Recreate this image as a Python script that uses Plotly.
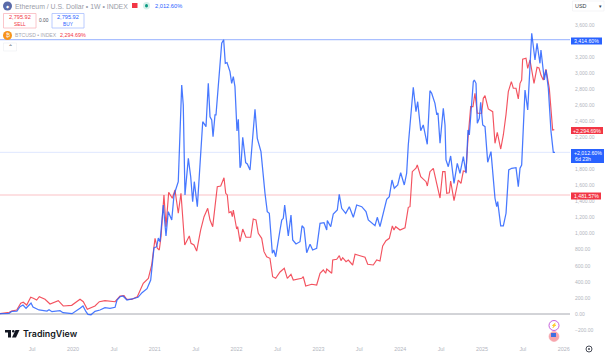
import plotly.graph_objects as go

eth_years = [2019.108,2019.218,2019.254,2019.315,2019.352,2019.389,2019.426,2019.487,2019.511,2019.584,2019.682,2019.707,2019.743,2019.841,2019.878,2019.988,
2020.086,2020.122,2020.159,2020.183,2020.220,2020.269,2020.330,2020.391,2020.452,2020.514,2020.538,2020.575,2020.611,2020.660,2020.721,2020.795,2020.844,2020.905,2020.950,2020.990,
2021.023,2021.043,2021.064,2021.104,2021.137,2021.165,2021.207,2021.235,2021.287,2021.329,2021.348,2021.369,2021.410,2021.439,2021.463,2021.483,2021.520,2021.540,2021.586,2021.626,2021.654,2021.675,2021.696,2021.712,2021.736,2021.748,2021.785,2021.818,2021.842,2021.862,2021.883,2021.919,2021.940,2021.960,2021.980,
2022.005,2022.021,2022.042,2022.054,2022.075,2022.111,2022.131,2022.164,2022.192,2022.225,2022.253,2022.298,2022.347,2022.375,2022.400,2022.437,2022.454,2022.478,2022.531,2022.552,2022.571,2022.588,2022.632,2022.665,2022.686,2022.726,2022.775,2022.800,2022.824,2022.857,2022.898,2022.930,2022.979,
2023.020,2023.069,2023.102,2023.109,2023.151,2023.182,2023.231,2023.255,2023.285,2023.334,2023.378,2023.427,2023.468,2023.530,2023.582,2023.610,2023.692,2023.720,2023.753,2023.835,2023.867,2023.900,2023.928,2023.970,
2024.006,2024.050,2024.079,2024.099,2024.128,2024.160,2024.193,2024.214,2024.251,2024.282,2024.331,2024.364,2024.385,2024.425,2024.446,2024.462,2024.487,2024.527,2024.548,2024.560,2024.588,2024.617,2024.658,2024.698,2024.731,2024.772,2024.805,2024.829,2024.845,2024.894,2024.906,2024.927,2024.943,2024.967,2024.984,
2025.009,2025.037,2025.070,2025.110,2025.159,2025.180,2025.192,2025.229,2025.261,2025.294,2025.327,2025.363,2025.416,2025.444,2025.465,2025.485,2025.526,2025.559,2025.608,2025.648,2025.673,2025.709,2025.721,2025.762,2025.783,2025.811,2025.844,2025.872,2025.893]

eth_pct = [4,9,34,37,91,112,71,137,87,50,37,54,29,41,16,4,
71,100,29,-4,-9,34,50,78,71,83,174,215,224,174,187,208,265,315,423,822,
838,946,900,1357,971,1274,1170,1482,1647,2851,2602,1482,1938,1709,1398,1647,1336,1627,2394,2332,2872,2456,2415,2207,2478,2478,2997,3370,3414,3121,3129,3017,2872,2954,2830,
2278,2424,1821,1855,2200,1884,1868,1793,2166,2549,2187,2021,1503,1274,1254,756,797,713,1046,1170,1191,1357,971,1233,921,872,900,1099,1071,763,868,797,818,
1129,1137,1046,1162,1087,1245,1295,1490,1316,1254,1336,1204,1357,1336,1274,1170,1099,1204,1087,1428,1460,1668,1565,1606,
1759,1606,1752,2104,2415,2822,2519,2643,2282,2353,2113,2780,2748,2623,2490,2502,2125,2561,2353,1917,1834,1967,1627,1876,1752,1958,1752,2291,2229,2892,2913,2872,2374,2437,2636,
2353,2332,1889,2021,1441,1336,1398,1096,1096,1254,1793,1814,1821,1585,1814,1855,2789,2540,3495,3162,3370,3121,3287,2913,3038,2810,2270,2013,2013]

btc_years = [2019.108,2019.221,2019.251,2019.312,2019.361,2019.392,2019.434,2019.483,2019.515,2019.556,2019.588,2019.658,2019.719,2019.780,2019.820,2019.881,2019.984,
2020.086,2020.126,2020.175,2020.269,2020.322,2020.391,2020.514,2020.575,2020.624,2020.656,2020.718,2020.786,2020.859,2020.921,2020.962,
2021.003,2021.031,2021.055,2021.076,2021.112,2021.137,2021.170,2021.214,2021.247,2021.287,2021.320,2021.366,2021.422,2021.443,2021.479,2021.512,2021.561,2021.602,2021.647,2021.675,2021.708,2021.736,2021.764,2021.806,2021.846,2021.867,2021.886,2021.907,2021.932,2021.948,2021.960,
2022.001,2022.013,2022.042,2022.075,2022.115,2022.172,2022.204,2022.237,2022.265,2022.307,2022.335,2022.368,2022.408,2022.441,2022.478,2022.531,2022.583,2022.620,2022.665,2022.693,2022.796,2022.815,2022.845,2022.918,2022.979,
2023.020,2023.060,2023.089,2023.102,2023.163,2023.175,2023.224,2023.256,2023.276,2023.297,2023.338,2023.366,2023.419,2023.448,2023.517,2023.570,2023.603,2023.671,2023.713,2023.753,2023.786,2023.826,2023.867,2023.904,2023.924,2023.945,2023.998,
2024.059,2024.099,2024.120,2024.148,2024.193,2024.209,2024.251,2024.316,2024.332,2024.364,2024.405,2024.446,2024.487,2024.520,2024.548,2024.569,2024.600,2024.617,2024.658,2024.710,2024.743,2024.772,2024.805,2024.829,2024.862,2024.890,2024.914,2024.943,2024.996,
2025.016,2025.037,2025.077,2025.131,2025.159,2025.187,2025.229,2025.261,2025.294,2025.322,2025.359,2025.383,2025.416,2025.444,2025.465,2025.485,2025.497,2025.538,2025.559,2025.587,2025.636,2025.673,2025.697,2025.721,2025.749,2025.783,2025.823,2025.864,2025.884]

btc_pct = [4,21,37,50,133,146,112,208,195,174,215,183,125,153,166,100,108,
183,153,59,100,153,166,153,224,228,183,183,215,382,444,610,
942,818,797,962,1482,1087,1515,1441,1544,1254,1503,859,971,880,859,784,1046,1211,1316,1170,1087,1336,1585,1594,1697,1503,1482,1261,1274,1211,1295,
1058,1087,900,1058,955,955,1183,1170,1005,942,776,713,693,464,444,523,569,444,494,423,444,464,349,370,361,
507,548,507,560,507,672,681,726,664,701,651,672,610,743,726,706,619,610,672,660,847,913,942,1096,1046,1087,1046,
1074,1328,1336,1772,1814,1855,1709,1647,1594,1772,1814,1627,1444,1772,1772,1503,1510,1656,1411,1668,1627,1780,1772,2187,2581,2581,2748,2499,2499,
2685,2718,2552,2519,2125,2262,2054,2229,2486,2768,2892,2810,2810,2677,2872,2913,3171,3183,3059,3162,2872,3071,3063,2975,2913,3047,2810,2291,2295]

x_tick_vals = [2019.5,2020,2020.5,2021,2021.5,2022,2022.5,2023,2023.5,2024,2024.5,2025,2025.5,2026]
x_tick_text = ["Jul","2020","Jul","2021","Jul","2022","Jul","2023","Jul","2024","Jul","2025","Jul","2026"]
# 2,000% and 3,400% are hidden behind price labels in the reference
y_tick_vals = [-200,0,200,400,600,800,1000,1200,1400,1600,1800,2200,2400,2600,2800,3000,3200,3600]
eth_high, btc_base, eth_last, btc_last = 3414.60, 1481.57, 2012.60, 2294.69

BLUE, RED = "#2962ff", "#f23645"
GREY = "#b2b5be"
FONT = "Liberation Sans, Arial, sans-serif"
W, H, PW, PH = 605, 353, 570, 343


def fx(p):
    return p / PW


def fy(p):
    return 1 - p / PH


fig = go.Figure()
fig.add_trace(go.Scatter(x=btc_years, y=btc_pct, mode="lines", line=dict(color=RED, width=1.15), hoverinfo="skip", opacity=0.85))
fig.add_trace(go.Scatter(x=eth_years, y=eth_pct, mode="lines", line=dict(color=BLUE, width=1.25), hoverinfo="skip", opacity=0.85))

shapes, notes = [], []


def level(value, color, width):
    shapes.append(dict(type="line", xref="paper", yref="y", x0=0, x1=1, y0=value, y1=value, layer="below",
                       line=dict(color=color, width=width)))


def box(x0, y0, x1, y1, fill="rgba(0,0,0,0)", line=None, width=1, kind="rect"):
    shapes.append(dict(type=kind, xref="paper", yref="paper", x0=fx(x0), x1=fx(x1), y0=fy(y0), y1=fy(y1),
                       fillcolor=fill, line=dict(color=line or "rgba(0,0,0,0)", width=width if line else 0)))


def text(x, y, s, size=6, color="#787b86", anchor="left", weight=None, family=FONT):
    notes.append(dict(xref="paper", yref="paper", x=fx(x), y=fy(y), text=s, showarrow=False, xanchor=anchor,
                      yanchor="middle", xshift=0, borderpad=0,
                      font=dict(size=size, color=color, family=family, weight=weight)))


level(0, "#a6a8b0", 1)
level(eth_high, "#a9bfff", 1.2)
level(eth_last, "#d6e0ff", 0.8)
level(btc_base, "#fbc1c6", 1.2)

# Price labels on the right scale
box(571, 37.5, 602, 44.5, fill=BLUE)
text(586.5, 41, "3,414.60%", 5.2, "#ffffff", "center")
box(571, 127, 603, 134, fill=RED)
text(587, 130.5, "+2,294.69%", 5.2, "#ffffff", "center")
box(571, 149, 604, 163, fill=BLUE)
text(587.5, 153, "+2,012.60%", 5.2, "#ffffff", "center")
text(574, 159.5, "6d 23h", 5.2, "#ffffff")
box(571, 192.5, 601, 199.5, fill=RED)
text(586, 196, "1,481.57%", 5.2, "#ffffff", "center")

# Currency selector
box(572.5, 1, 604, 11, fill="#ffffff", line="#eeeff2", width=0.6)
text(574, 6, "USD", 5.4, "#363a45")
text(600, 6, "▾", 4.5, "#363a45", "center")

# Header
box(3, 1.5, 12, 10.5, fill="#5a6aa8", kind="circle")
text(7.5, 6, "◆", 4, "#ffffff", "center")
text(14, 6, "Ethereum / U.S. Dollar • 1W • INDEX", 6.9, "#9a9da8")
box(132, 3, 137.5, 8, fill=RED)
box(143, 2, 150, 9.5, fill="#d5f0ea", kind="circle")
box(145, 4, 148, 7.5, fill="#089981", kind="circle")
text(154, 6, "2,012.60%", 5.7, BLUE)
box(3.5, 13.5, 36, 28, fill="#ffffff", line="#f9b8be", width=0.8)
text(19.7, 17.5, "2,795.92", 5.6, RED, "center")
text(19.7, 24, "SELL", 4.8, RED, "center")
text(44, 20.5, "0.00", 4.8, "#50535e", "center")
box(52, 13.5, 84, 28, fill="#ffffff", line="#a9bfff", width=0.8)
text(68, 17.5, "2,795.92", 5.6, BLUE, "center")
text(68, 24, "BUY", 4.8, BLUE, "center")
box(3, 31, 12, 40, fill="#f7931a", kind="circle")
text(7.5, 35.5, "₿", 5.5, "#ffffff", "center")
text(14, 35.5, "BTCUSD • INDEX", 5.1, "#a6a8b0")
text(59, 35.5, "2,294.69%", 5.4, RED)
box(3.5, 43, 16.5, 51, fill="#ffffff", line="#eceef2", width=0.6)
text(10, 47, "⌃", 5.5, "#363a45", "center")

# TradingView logo
box(5, 330, 11, 332.5, fill="#131722")
box(8, 330, 11, 337.5, fill="#131722")
box(12, 330, 14.5, 332.5, fill="#131722", kind="circle")
shapes.append(dict(type="path", xref="paper", yref="paper",
                   path=f"M {fx(15.5)} {fy(330)} L {fx(19.5)} {fy(330)} L {fx(16)} {fy(337.5)} L {fx(12)} {fy(337.5)} Z",
                   fillcolor="#131722", line=dict(width=0)))
text(22, 333.5, "TradingView", 8.9, "#131722", weight=600, family="Inter, Liberation Sans, sans-serif")

# Event markers and settings icon
box(549, 320.5, 559, 330.5, fill="#ffffff", line="#c04fd8", width=0.9, kind="circle")
text(554, 325.7, "⚡", 5, "#c04fd8", "center")
box(549, 331.5, 559, 341.5, fill="#f7a5ac", line="#f7a5ac", width=0.6, kind="circle")
box(551, 333, 556, 337, fill="#3f6fe0")
box(586, 346, 592, 352, fill="#ffffff", line="#4a4e59", width=1, kind="circle")
box(588, 348, 590, 350, fill="#4a4e59", kind="circle")

fig.update_layout(
    width=W, height=H, autosize=False, showlegend=False,
    margin=dict(l=0, r=W - PW, t=0, b=H - PH, pad=0, autoexpand=False),
    paper_bgcolor="#ffffff", plot_bgcolor="#ffffff",
    font=dict(family=FONT),
    xaxis=dict(range=[2019.1076, 2026.076], showgrid=False, zeroline=False, showline=False, automargin=False,
               tickmode="array", tickvals=x_tick_vals, ticktext=x_tick_text, ticks="", ticklen=0, ticklabelstandoff=2,
               tickfont=dict(size=5.4, color=GREY)),
    yaxis=dict(range=[-361, 3909], side="right", showgrid=False, zeroline=False, showline=False, automargin=False,
               tickmode="array", tickvals=y_tick_vals, ticksuffix="%", tickformat=",.2f", ticks="", ticklabelstandoff=4,
               tickfont=dict(size=5.0, color=GREY)),
    shapes=shapes, annotations=notes,
)
fig.write_html("out.html", config={"displayModeBar": False},
               post_script="document.body.style.margin='0';document.documentElement.style.overflow='hidden';")
